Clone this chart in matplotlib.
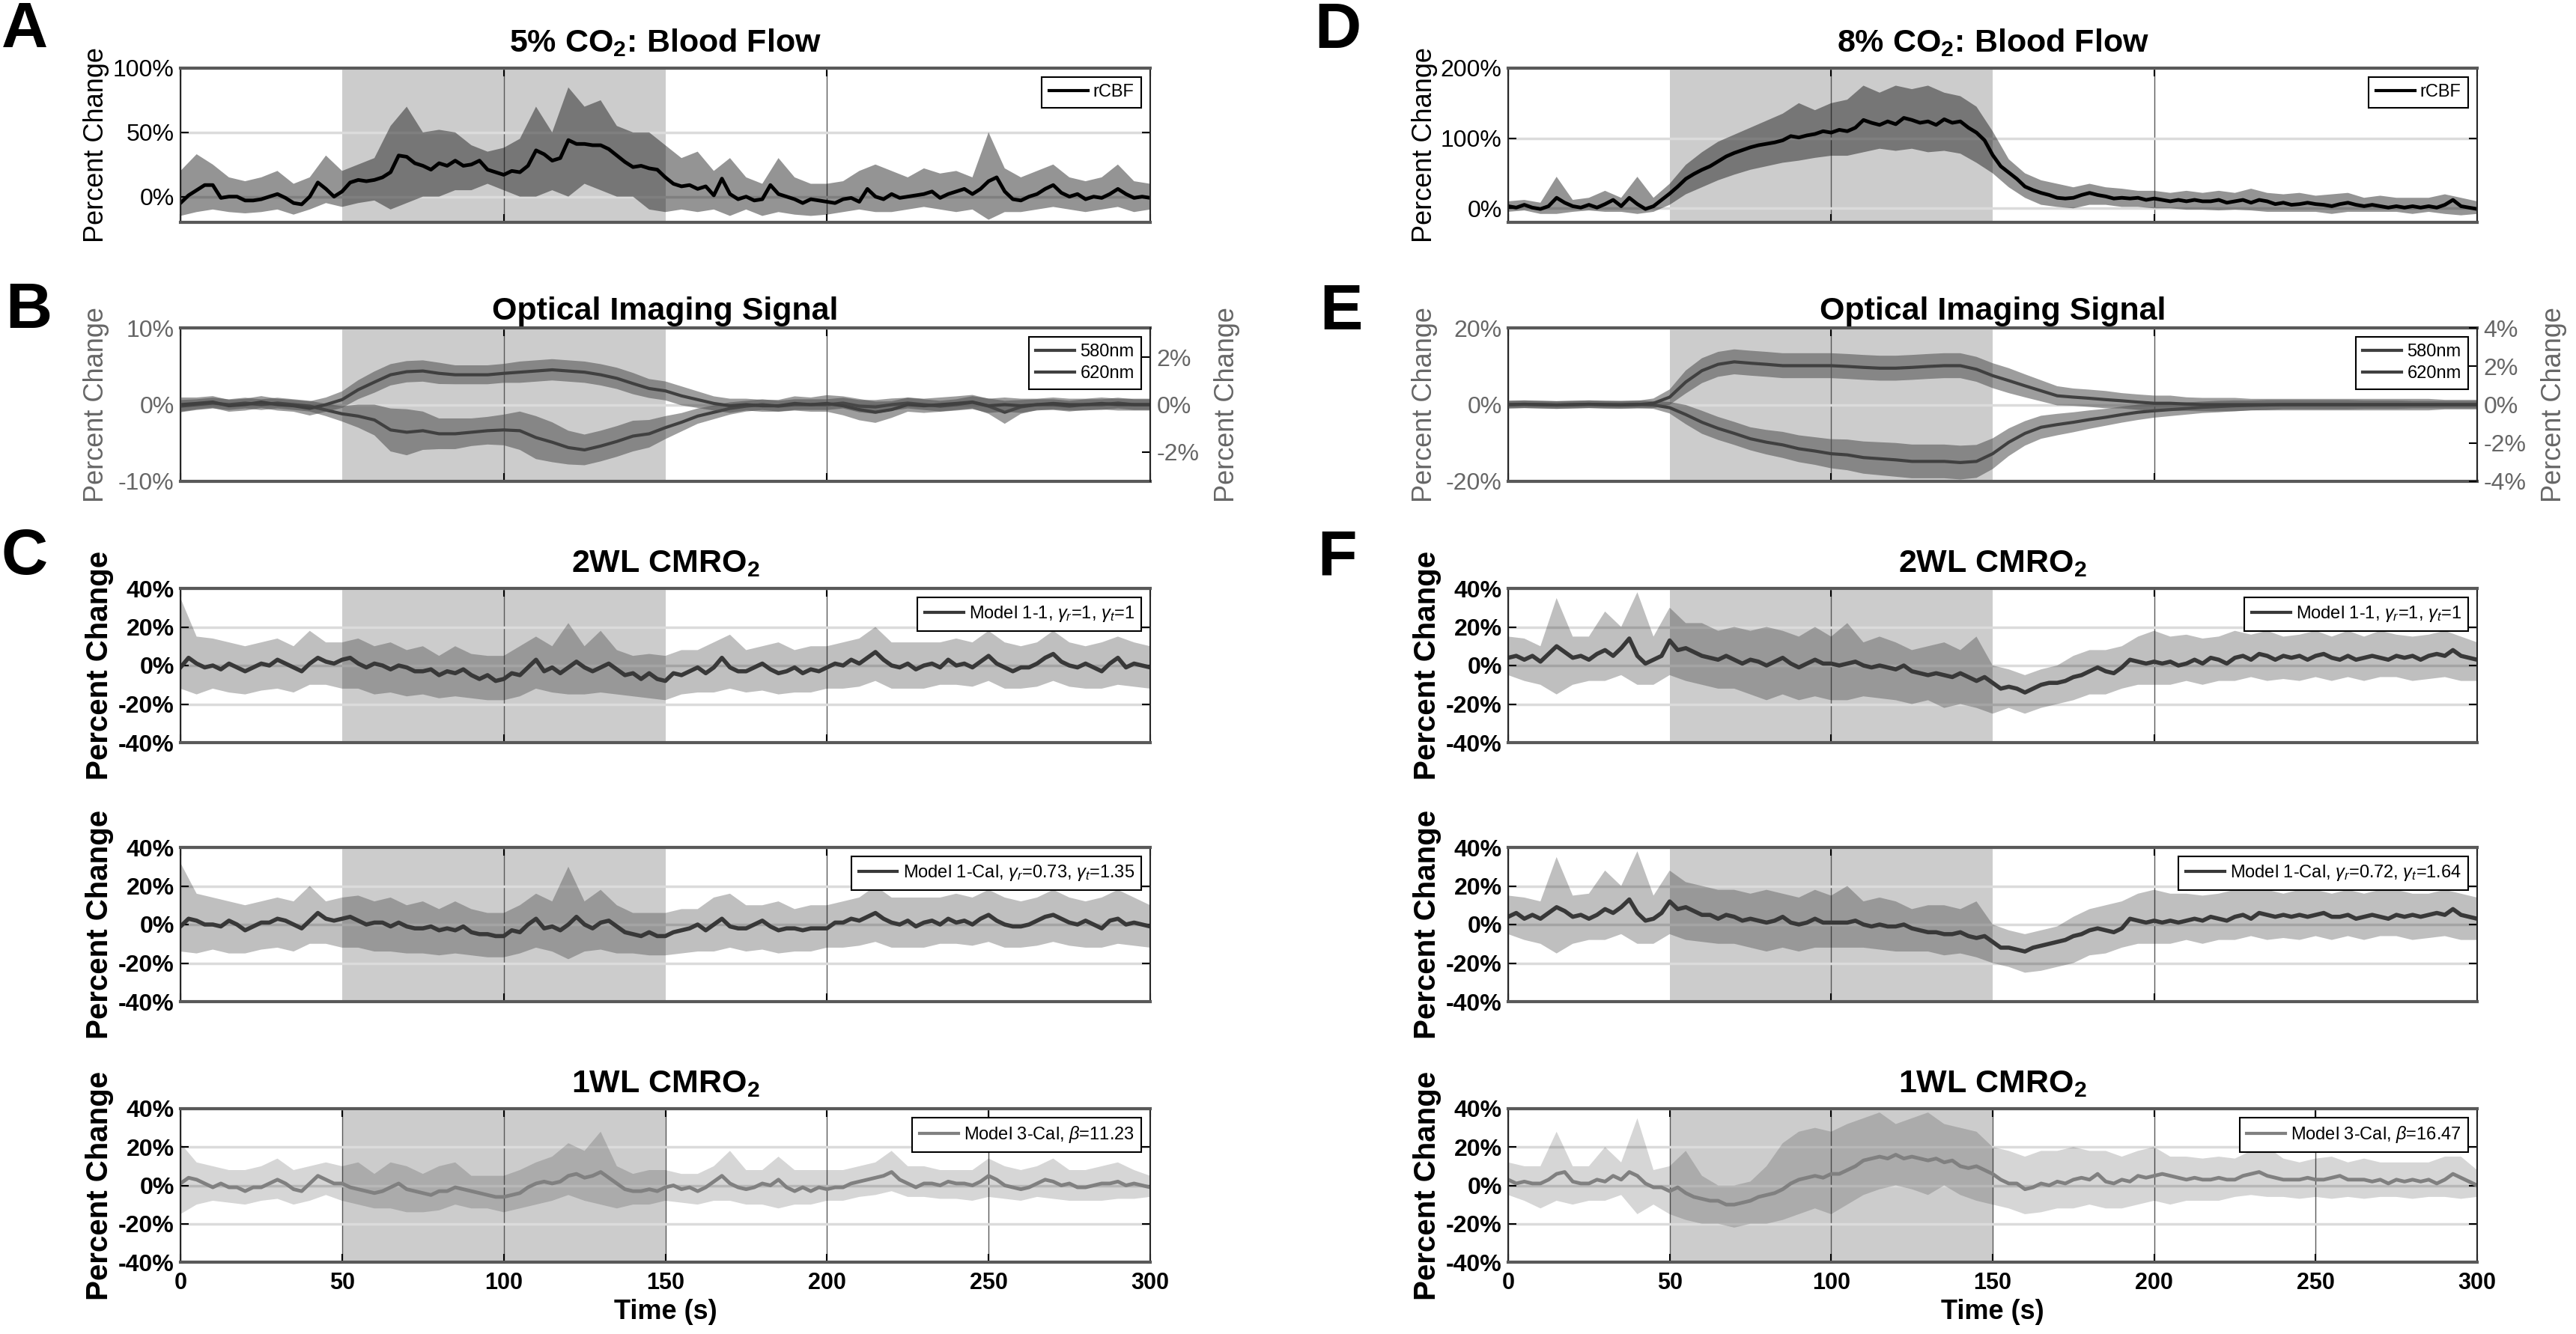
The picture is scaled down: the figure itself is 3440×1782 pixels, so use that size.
import numpy as np
import matplotlib
matplotlib.use("Agg")
import matplotlib.pyplot as plt
from matplotlib.ticker import FuncFormatter

plt.rcParams['font.family'] = ['Liberation Sans', 'DejaVu Sans']
plt.rcParams['mathtext.fontset'] = 'custom'
plt.rcParams['mathtext.rm'] = 'Liberation Sans'
plt.rcParams['mathtext.it'] = 'Liberation Sans:italic'
plt.rcParams['mathtext.bf'] = 'Liberation Sans:bold'

# ---------------- data (percent change; 2.5 s or 5 s sampling over 0-300 s) -------------
stim_on, stim_off = 50, 150
xticks_top = [0, 100, 200, 300]
xticks_bottom = [0, 50, 100, 150, 200, 250, 300]

# Panel A: 5% CO2 rCBF
A_mean = [-5, 1, 5, 9, 9, -1, 0, 0, -3, -3,
          -2, 0, 2, -1, -5, -6, 0, 11, 6, 0,
          4, 11, 13, 12, 13, 15, 19, 32, 31, 26,
          24, 21, 26, 24, 28, 24, 25, 28, 21, 19,
          17, 20, 19, 24, 36, 33, 28, 30, 44, 41,
          41, 40, 40, 37, 32, 27, 23, 24, 22, 21,
          15, 10, 8, 9, 6, 8, 1, 14, 2, -2,
          0, -3, -2, 9, 2, 0, -2, -5, -2, -3,
          -4, -5, -2, -1, -4, 6, 0, -2, 2, -1,
          0, 1, 2, 4, -1, 2, 4, 6, 2, 6,
          12, 15, 4, -2, -3, 0, 2, 6, 9, 3,
          0, 2, -2, 0, -1, 2, 6, 2, -1, 0,
          -1]
A_up = [20, 33, 25, 15, 12, 15, 20, 10, 15, 32,
        20, 25, 30, 55, 70, 50, 52, 50, 40, 35,
        38, 45, 70, 50, 85, 70, 75, 55, 50, 50,
        40, 30, 35, 20, 30, 15, 10, 30, 15, 10,
        10, 12, 20, 25, 20, 15, 22, 18, 20, 15,
        50, 22, 15, 20, 25, 15, 12, 15, 25, 12,
        10]
A_lo = [-15, -12, -10, -12, -13, -12, -10, -14, -10, -5,
        -8, -5, -3, -10, -5, 0, 0, 5, 5, 10,
        5, 0, 0, 5, 0, 10, 5, 0, 0, -10,
        -12, -10, -12, -10, -15, -10, -15, -12, -14, -15,
        -14, -12, -10, -12, -12, -10, -8, -10, -12, -10,
        -18, -12, -12, -10, -8, -10, -12, -10, -8, -12,
        -10]

# Panel D: 8% CO2 rCBF
D_mean = [3, 1, 5, 1, -1, 3, 15, 8, 3, 1,
          5, 1, 6, 12, 3, 15, 6, -1, 3, 12,
          21, 31, 42, 49, 55, 60, 67, 74, 79, 83,
          87, 90, 92, 94, 97, 103, 101, 104, 106, 110,
          108, 112, 110, 115, 126, 122, 119, 124, 120, 129,
          126, 122, 124, 119, 127, 122, 124, 115, 108, 97,
          76, 60, 51, 42, 31, 26, 22, 19, 15, 14,
          15, 19, 22, 19, 17, 14, 15, 14, 15, 12,
          14, 12, 10, 12, 10, 12, 10, 10, 12, 8,
          10, 12, 8, 12, 10, 6, 8, 5, 6, 8,
          6, 5, 3, 6, 8, 5, 3, 5, 3, 1,
          3, 1, 3, 1, 3, 1, 5, 12, 3, 1,
          -1]
D_up = [10, 12, 8, 45, 12, 15, 25, 15, 45, 15,
        35, 62, 80, 95, 105, 115, 125, 135, 150, 140,
        150, 155, 175, 165, 175, 170, 175, 165, 160, 145,
        110, 70, 50, 40, 35, 30, 35, 30, 28, 25,
        25, 22, 25, 22, 25, 22, 28, 22, 20, 22,
        18, 20, 22, 15, 18, 15, 15, 15, 20, 15,
        10]
D_lo = [-5, -3, -8, -8, -5, -3, -5, -5, -8, -5,
        5, 20, 30, 40, 48, 55, 60, 65, 68, 72,
        75, 75, 80, 85, 82, 85, 80, 82, 78, 65,
        50, 30, 15, 5, 2, 0, 5, 5, 2, 2,
        0, 0, -2, -2, -3, -2, -3, -5, -5, -5,
        -5, -8, -5, -5, -5, -5, -8, -5, -8, -10,
        -8]

# Panel B: optical signal, 5% CO2 (580nm on left axis, 620nm on right axis)
B580_mean = [-0.2, 0.0, 0.2, 0.0, 0.2, 0.0, 0.2, 0.0, -0.2, -0.7,
             -1.2, -1.5, -2.0, -3.3, -3.6, -3.4, -3.8, -3.8, -3.6, -3.4,
             -3.3, -3.4, -4.3, -4.9, -5.6, -5.9, -5.4, -4.8, -4.1, -3.8,
             -3.0, -2.3, -1.5, -1.0, -0.5, -0.2, 0.0, -0.2, 0.0, 0.0,
             0.0, 0.2, -0.2, -0.3, 0.0, 0.2, 0.0, -0.2, 0.0, 0.3,
             -0.2, -1.0, -0.3, 0.0, 0.0, -0.2, 0.0, 0.0, 0.2, 0.0,
             0.0]
B580_sd = [0.8, 0.7, 0.7, 0.7, 0.7, 0.7, 0.7, 0.7, 0.7, 0.8,
           1.0, 1.5, 2.0, 2.8, 3.0, 2.5, 2.0, 2.0, 1.8, 1.8,
           2.0, 2.5, 2.8, 2.6, 2.2, 2.0, 2.0, 2.0, 2.0, 1.8,
           1.5, 1.2, 1.0, 0.9, 0.8, 0.7, 0.7, 0.7, 0.7, 0.7,
           0.7, 0.7, 0.8, 0.9, 0.8, 0.7, 0.7, 0.7, 0.7, 0.8,
           1.0, 1.5, 0.9, 0.7, 0.7, 0.7, 0.7, 0.7, 0.7, 0.7,
           0.7]
B620_mean = [0, 0.05, 0.11, -0.05, 0, 0.11, 0, -0.05, -0.16, 0,
             0.21, 0.63, 0.95, 1.26, 1.39, 1.42, 1.32, 1.26, 1.26, 1.26,
             1.32, 1.37, 1.42, 1.47, 1.42, 1.37, 1.26, 1.11, 0.89, 0.68,
             0.58, 0.37, 0.21, 0.05, -0.05, 0, -0.05, -0.05, 0.05, 0,
             0.05, -0.05, -0.21, -0.32, -0.21, 0, -0.05, 0, 0.05, 0.11,
             -0.05, 0, -0.05, 0, 0.05, 0, 0, 0.05, 0, 0,
             0]
B620_sd = [0.3, 0.25, 0.25, 0.25, 0.25, 0.25, 0.25, 0.25, 0.3, 0.3,
           0.35, 0.4, 0.45, 0.45, 0.45, 0.45, 0.45, 0.4, 0.4, 0.4,
           0.4, 0.45, 0.45, 0.45, 0.45, 0.45, 0.45, 0.45, 0.45, 0.4,
           0.4, 0.4, 0.35, 0.3, 0.3, 0.25, 0.25, 0.25, 0.3, 0.3,
           0.35, 0.4, 0.45, 0.45, 0.35, 0.3, 0.3, 0.3, 0.3, 0.3,
           0.3, 0.3, 0.3, 0.25, 0.25, 0.25, 0.25, 0.25, 0.25, 0.25,
           0.25]

# Panel E: optical signal, 8% CO2
E580_mean = [0, 0.1, 0, -0.1, 0, 0.1, 0, 0, 0.1, -0.1,
             -0.8, -2.6, -4.6, -6.2, -7.5, -8.9, -9.8, -10.5, -11.5, -12.1,
             -12.8, -13.1, -13.8, -14.1, -14.4, -14.8, -14.8, -14.8, -15.1, -14.8,
             -12.8, -9.8, -7.5, -5.9, -5.2, -4.6, -3.9, -3.3, -2.6, -2.0,
             -1.6, -1.3, -1.0, -0.7, -0.5, -0.3, -0.2, -0.1, 0, 0,
             0, 0, 0, 0, 0, 0, 0, 0, 0, 0,
             0]
E580_sd = [1.0, 1.0, 1.0, 1.0, 1.0, 1.0, 1.0, 1.0, 1.0, 1.0,
           1.5, 2.5, 3.0, 3.0, 3.0, 3.0, 3.2, 3.4, 3.5, 3.6,
           3.8, 4.0, 4.2, 4.3, 4.4, 4.4, 4.4, 4.4, 4.4, 4.3,
           4.0, 3.6, 3.2, 3.0, 2.8, 2.6, 2.4, 2.2, 2.1, 2.0,
           1.8, 1.7, 1.6, 1.5, 1.5, 1.4, 1.3, 1.3, 1.2, 1.2,
           1.2, 1.2, 1.2, 1.1, 1.1, 1.1, 1.0, 1.0, 1.0, 1.0,
           1.0]
E620_mean = [0, 0.02, 0, -0.02, 0, 0.02, 0, -0.02, 0, 0.07,
             0.39, 1.18, 1.77, 2.10, 2.23, 2.16, 2.10, 2.03, 2.03, 2.03,
             2.03, 1.99, 1.94, 1.90, 1.90, 1.94, 1.99, 2.03, 2.03, 1.84,
             1.51, 1.25, 0.98, 0.72, 0.46, 0.39, 0.33, 0.26, 0.20, 0.13,
             0.07, 0.07, 0.03, 0, 0, 0, 0, 0, 0, 0,
             0, 0, 0, 0, 0, 0, 0, 0, 0, 0,
             0]
E620_sd = [0.2, 0.2, 0.2, 0.2, 0.2, 0.2, 0.2, 0.2, 0.2, 0.25,
           0.4, 0.6, 0.65, 0.65, 0.65, 0.65, 0.65, 0.65, 0.65, 0.65,
           0.65, 0.65, 0.65, 0.65, 0.65, 0.65, 0.65, 0.65, 0.65, 0.65,
           0.65, 0.65, 0.6, 0.55, 0.5, 0.45, 0.45, 0.45, 0.4, 0.4,
           0.4, 0.4, 0.35, 0.35, 0.35, 0.35, 0.3, 0.3, 0.3, 0.3,
           0.3, 0.3, 0.3, 0.3, 0.3, 0.3, 0.3, 0.3, 0.25, 0.25,
           0.25]

# Panel C (5% CO2): CMRO2 estimates
C1_mean = [-1, 4, 1, -1, 0, -2, 1, -1, -3, -1,
           1, 0, 3, 1, -1, -3, 1, 4, 2, 1,
           3, 4, 1, -1, 1, 0, -2, 0, -1, -3,
           -3, -2, -5, -3, -4, -2, -5, -7, -5, -8,
           -7, -4, -5, -1, 3, -3, -1, -4, -1, 2,
           -1, -3, -1, 1, -2, -5, -4, -7, -4, -7,
           -8, -4, -5, -3, -1, -4, -1, 4, -1, -3,
           -3, -1, 1, -2, -4, -3, -1, -4, -2, -3,
           -1, 1, 0, 3, 1, 4, 7, 3, 0, -1,
           1, -2, 0, 1, -1, 3, 0, 1, -1, 2,
           5, 1, -1, -3, -1, -1, 1, 4, 6, 2,
           0, -1, 1, -1, -3, 1, 4, -1, 1, 0,
           -1]
C1_up = [35, 15, 14, 12, 10, 12, 14, 10, 18, 12,
         12, 14, 10, 12, 8, 10, 5, 10, 6, 5,
         5, 10, 15, 10, 22, 10, 18, 8, 5, 6,
         5, 8, 8, 12, 16, 8, 10, 12, 8, 10,
         10, 12, 14, 20, 12, 12, 12, 12, 14, 12,
         18, 12, 10, 12, 18, 12, 10, 12, 15, 12,
         10]
C1_lo = [-12, -15, -12, -14, -15, -13, -12, -14, -10, -10,
         -12, -12, -15, -14, -16, -15, -17, -16, -17, -18,
         -18, -16, -12, -14, -15, -15, -14, -15, -16, -17,
         -18, -15, -14, -14, -12, -14, -13, -15, -14, -14,
         -12, -12, -11, -8, -12, -12, -12, -10, -10, -11,
         -8, -12, -12, -11, -8, -11, -12, -12, -10, -11,
         -12]
C2_mean = [-1, 3, 2, 0, 0, -1, 2, 0, -3, -1,
           1, 1, 3, 2, 0, -2, 2, 6, 3, 2,
           3, 4, 2, 0, 1, 1, -1, 1, -1, -2,
           -2, -1, -3, -2, -3, -1, -4, -5, -5, -6,
           -6, -3, -4, 0, 3, -2, -1, -3, 0, 4,
           0, -2, 1, 2, -1, -4, -5, -6, -4, -6,
           -6, -4, -3, -2, 0, -3, 0, 3, -1, -2,
           -2, 0, 2, -1, -3, -2, -2, -3, -2, -2,
           -2, 1, 1, 3, 2, 4, 6, 3, 1, 0,
           2, -1, 1, 2, 0, 3, 1, 2, 0, 3,
           5, 2, 0, -1, -1, 0, 2, 4, 5, 3,
           1, 0, 2, 0, -2, 2, 3, 0, 1, 0,
           -1]
C2_up = [32, 16, 14, 12, 10, 12, 14, 12, 20, 12,
         14, 15, 12, 14, 10, 12, 8, 12, 8, 6,
         6, 10, 16, 12, 30, 12, 18, 10, 6, 6,
         6, 8, 8, 14, 16, 10, 10, 12, 8, 10,
         10, 12, 14, 20, 14, 14, 14, 14, 16, 14,
         18, 14, 12, 14, 18, 14, 12, 14, 18, 14,
         10]
C2_lo = [-14, -15, -13, -15, -15, -13, -12, -14, -10, -10,
         -12, -12, -14, -14, -15, -15, -16, -15, -16, -17,
         -17, -15, -12, -14, -18, -14, -13, -15, -15, -16,
         -16, -15, -14, -14, -12, -14, -13, -15, -14, -14,
         -12, -12, -11, -9, -12, -12, -12, -10, -10, -11,
         -9, -12, -12, -11, -9, -11, -12, -12, -10, -11,
         -12]
C3_mean = [1, 4, 3, 1, -1, 1, -1, -1, -3, -1,
           -1, 1, 3, 1, -2, -3, 1, 5, 3, 1,
           1, -1, -2, -3, -4, -3, -1, 1, -2, -3,
           -4, -5, -3, -3, -1, -2, -3, -4, -5, -6,
           -6, -5, -4, -1, 1, 2, 1, 2, 5, 6,
           4, 5, 7, 4, 1, -2, -3, -3, -2, -3,
           -1, 0, -2, -1, -3, -1, 2, 5, 1, -1,
           -2, -1, 1, 0, 3, -1, -3, -1, -3, -1,
           -2, -1, -1, 1, 2, 3, 4, 5, 7, 3,
           1, -1, 1, 1, 0, 2, 1, 1, 0, 2,
           5, 3, 0, -1, -2, -1, 1, 3, 2, 0,
           1, -1, -1, 0, 1, 1, 2, 0, 1, 0,
           -1]
C3_up = [22, 12, 10, 8, 8, 10, 14, 8, 10, 12,
         10, 12, 6, 12, 10, 6, 10, 12, 5, 5,
         5, 8, 12, 15, 22, 18, 28, 10, 6, 8,
         8, 6, 6, 10, 18, 8, 8, 15, 8, 8,
         8, 8, 10, 12, 18, 10, 10, 8, 8, 8,
         14, 10, 8, 10, 14, 8, 8, 10, 12, 8,
         5]
C3_lo = [-15, -10, -8, -9, -10, -8, -7, -10, -8, -5,
         -8, -10, -12, -12, -14, -14, -13, -10, -12, -12,
         -14, -12, -10, -8, -5, -8, -10, -12, -10, -10,
         -8, -9, -10, -8, -8, -10, -10, -12, -10, -10,
         -8, -8, -6, -5, -3, -6, -6, -7, -7, -8,
         -6, -7, -8, -6, -7, -8, -8, -8, -7, -7,
         -6]

# Panel F (8% CO2): CMRO2 estimates
F1_mean = [4, 5, 3, 5, 2, 6, 10, 7, 4, 5,
           3, 6, 8, 5, 9, 14, 5, 1, 3, 5,
           13, 8, 9, 7, 5, 4, 3, 5, 3, 1,
           3, 2, 0, 2, 4, 1, -1, 1, 3, 1,
           1, 0, 1, 2, 0, -1, 0, -1, -2, 0,
           -3, -4, -5, -4, -5, -6, -4, -6, -8, -6,
           -9, -12, -11, -12, -14, -12, -10, -9, -9, -8,
           -6, -5, -3, -1, -3, -4, -1, 3, 2, 1,
           2, 1, 2, 0, 1, 3, 1, 4, 3, 1,
           4, 5, 3, 6, 5, 3, 5, 4, 5, 3,
           5, 6, 4, 3, 5, 3, 4, 5, 4, 3,
           5, 4, 5, 3, 5, 6, 5, 8, 5, 4,
           3]
F1_up = [15, 14, 10, 35, 15, 15, 28, 20, 38, 15,
         30, 22, 22, 18, 20, 18, 20, 18, 15, 20,
         15, 22, 12, 15, 12, 8, 10, 12, 8, 15,
         0, -2, -5, -2, 0, 5, 8, 8, 10, 15,
         18, 15, 16, 14, 15, 18, 16, 18, 15, 16,
         18, 15, 18, 15, 18, 16, 15, 16, 18, 15,
         12]
F1_lo = [-5, -8, -10, -15, -10, -8, -8, -5, -10, -10,
         -5, -8, -10, -12, -12, -15, -18, -15, -18, -16,
         -18, -18, -16, -17, -18, -20, -18, -22, -20, -22,
         -25, -22, -25, -22, -20, -18, -15, -15, -12, -10,
         -10, -10, -8, -10, -8, -8, -6, -8, -7, -8,
         -6, -8, -6, -8, -6, -6, -8, -7, -6, -8,
         -8]
F2_mean = [4, 6, 3, 5, 3, 6, 9, 7, 4, 5,
           3, 5, 8, 6, 9, 13, 6, 2, 3, 6,
           12, 8, 9, 7, 5, 5, 3, 5, 4, 2,
           3, 2, 1, 2, 4, 1, 0, 1, 3, 1,
           1, 1, 1, 2, 0, -1, 0, -1, -1, 0,
           -2, -3, -4, -4, -5, -5, -4, -6, -7, -6,
           -9, -12, -12, -13, -14, -12, -11, -10, -9, -8,
           -6, -5, -3, -2, -3, -4, -2, 3, 2, 1,
           2, 1, 2, 1, 2, 3, 2, 4, 3, 2,
           4, 5, 3, 6, 5, 4, 5, 4, 5, 4,
           5, 6, 4, 4, 5, 3, 4, 5, 4, 3,
           5, 4, 5, 4, 5, 6, 5, 8, 5, 4,
           3]
F2_up = [15, 14, 12, 35, 15, 16, 28, 20, 38, 15,
         28, 22, 20, 18, 18, 16, 18, 16, 14, 18,
         15, 20, 12, 14, 12, 8, 10, 10, 8, 12,
         0, -3, -5, -3, -1, 4, 8, 10, 12, 16,
         18, 16, 16, 15, 16, 18, 18, 18, 16, 18,
         18, 16, 18, 16, 18, 18, 16, 16, 18, 16,
         14]
F2_lo = [-5, -8, -10, -15, -10, -8, -8, -5, -10, -10,
         -5, -8, -9, -10, -10, -12, -14, -12, -14, -12,
         -12, -12, -12, -13, -14, -14, -14, -16, -15, -17,
         -20, -22, -25, -24, -22, -20, -16, -15, -12, -10,
         -10, -10, -8, -10, -8, -8, -6, -8, -7, -8,
         -6, -8, -6, -8, -6, -6, -8, -7, -6, -8,
         -8]
F3_mean = [3, 1, 2, 1, 1, 3, 6, 7, 2, 1,
           1, 3, 2, 5, 3, 7, 5, 1, -1, -1,
           -3, -1, -4, -6, -7, -8, -8, -10, -10, -9,
           -8, -6, -5, -4, -2, 1, 3, 4, 5, 4,
           6, 6, 8, 10, 13, 14, 15, 14, 16, 14,
           15, 14, 13, 14, 12, 13, 10, 9, 10, 8,
           6, 3, 1, 1, -2, -1, 1, 0, 2, 1,
           3, 4, 3, 6, 2, 1, 3, 2, 5, 4,
           5, 6, 5, 4, 3, 4, 3, 3, 4, 3,
           3, 5, 6, 7, 5, 4, 3, 3, 3, 4,
           3, 3, 4, 5, 3, 3, 3, 2, 3, 1,
           3, 2, 3, 2, 3, 1, 3, 6, 4, 2,
           0]
F3_up = [12, 10, 10, 28, 10, 10, 20, 12, 35, 8,
         10, 18, 5, 0, 0, 2, 10, 22, 28, 30,
         28, 32, 35, 38, 32, 35, 38, 32, 30, 28,
         20, 18, 15, 18, 18, 20, 18, 18, 15, 18,
         20, 15, 15, 14, 15, 14, 18, 20, 14, 12,
         14, 15, 12, 14, 12, 12, 12, 12, 15, 15,
         8]
F3_lo = [-5, -8, -12, -8, -10, -8, -8, -5, -15, -10,
         -15, -18, -20, -20, -22, -20, -20, -18, -15, -12,
         -15, -10, -5, -2, 0, -2, -5, 0, -5, -8,
         -10, -12, -15, -14, -12, -12, -10, -12, -12, -10,
         -8, -10, -8, -8, -8, -6, -5, -6, -6, -7,
         -6, -7, -6, -7, -6, -6, -7, -6, -6, -7,
         -6]

titles_col1 = [r'5% CO$_\mathbf{2}$: Blood Flow', 'Optical Imaging Signal',
               r'2WL CMRO$_\mathbf{2}$', None, r'1WL CMRO$_\mathbf{2}$']
titles_col2 = [r'8% CO$_\mathbf{2}$: Blood Flow', 'Optical Imaging Signal',
               r'2WL CMRO$_\mathbf{2}$', None, r'1WL CMRO$_\mathbf{2}$']
labels_c = [r'Model 1-1, $\gamma_r$=1, $\gamma_t$=1',
            r'Model 1-Cal, $\gamma_r$=0.73, $\gamma_t$=1.35',
            r'Model 3-Cal, $\beta$=11.23']
labels_f = [r'Model 1-1, $\gamma_r$=1, $\gamma_t$=1',
            r'Model 1-Cal, $\gamma_r$=0.72, $\gamma_t$=1.64',
            r'Model 3-Cal, $\beta$=16.47']

# ---------------- layout -------------
W, H = 3440, 1782
fig = plt.figure(figsize=(W / 100, H / 100), dpi=100)
cols = [(241, 1536), (2014, 3308)]
rows = [(91, 297), (438, 643), (786, 992), (1132, 1338), (1481, 1686)]

pct = FuncFormatter(lambda v, p: f"{v:g}%")


def tgrid(arr):
    return np.linspace(0, 300, len(arr))


def make_ax(c, r):
    l, rr = cols[c]
    t, b = rows[r]
    return fig.add_axes([l / W, 1 - b / H, (rr - l) / W, (b - t) / H])


def style(ax, ylim, yticks, bottom=False, tcolor='black', tweight='normal', right=True):
    ax.set_xlim(0, 300)
    ax.set_ylim(*ylim)
    ax.axvspan(stim_on, stim_off, facecolor='0.8', edgecolor='none', zorder=0.2)
    ax.set_xticks(xticks_bottom if bottom else xticks_top)
    ax.set_yticks(yticks)
    ax.yaxis.set_major_formatter(pct)
    ax.set_axisbelow(True)
    ax.xaxis.grid(True, color='0.35', lw=1.0)
    ax.yaxis.grid(True, color='0.86', lw=2.5)
    ax.tick_params(axis='both', direction='in', length=8, width=1.5,
                   top=True, right=right, labelsize=23, pad=6)
    ax.tick_params(axis='y', labelcolor=tcolor)
    if bottom:
        ax.tick_params(axis='x', labelsize=22, pad=9)
        for tl in ax.get_xticklabels():
            tl.set_fontweight('bold')
    else:
        ax.set_xticklabels([])
    for tl in ax.get_yticklabels():
        tl.set_fontweight(tweight)
    for s in ('top', 'bottom'):
        ax.spines[s].set_linewidth(3)
        ax.spines[s].set_color('0.35')
    for s in ('left', 'right'):
        ax.spines[s].set_linewidth(1.5)
        ax.spines[s].set_color('0.15')


def band(ax, mean, up, lo, fc, alpha, lc, lw, z=1):
    ax.fill_between(tgrid(up), lo, up, facecolor=fc, alpha=alpha, lw=0, zorder=z)
    ln, = ax.plot(tgrid(mean), mean, color=lc, lw=lw, zorder=z + 1,
                  solid_joinstyle='round')
    return ln


def legend(ax, handles, labels):
    lg = ax.legend(handles, labels, loc='upper right', fontsize=17, frameon=True,
                   fancybox=False, framealpha=1, edgecolor='black',
                   handlelength=2.2, handletextpad=0.3, borderpad=0.4,
                   labelspacing=0.3, borderaxespad=0.5)
    lg.get_frame().set_linewidth(1.5)
    for h in lg.legend_handles:
        h.set_linewidth(3)
    lg.set_zorder(10)


def ylabel(c, r, color='black', weight='normal', size=26, side='left', off=112):
    l, rr = cols[c]
    t, b = rows[r]
    x = (l - off) if side == 'left' else (rr + 102)
    fig.text(x / W, 1 - (t + b) / 2 / H, 'Percent Change', rotation=90,
             ha='center', va='center', color=color, fontsize=size, fontweight=weight)


panel_data = [
    dict(blood=(A_mean, A_up, A_lo), ylimA=(-20, 100), yticksA=[0, 50, 100],
         opt=(B580_mean, B580_sd, B620_mean, B620_sd), ylimB=(-10, 10), yticksB=[-10, 0, 10],
         ylimB2=(-3.24, 3.24), yticksB2=[-2, 0, 2],
         cm=[(C1_mean, C1_up, C1_lo), (C2_mean, C2_up, C2_lo), (C3_mean, C3_up, C3_lo)],
         labels=labels_c, titles=titles_col1, letters='ABC'),
    dict(blood=(D_mean, D_up, D_lo), ylimA=(-20, 200), yticksA=[0, 100, 200],
         opt=(E580_mean, E580_sd, E620_mean, E620_sd), ylimB=(-20, 20), yticksB=[-20, 0, 20],
         ylimB2=(-4, 4), yticksB2=[-4, -2, 0, 2, 4],
         cm=[(F1_mean, F1_up, F1_lo), (F2_mean, F2_up, F2_lo), (F3_mean, F3_up, F3_lo)],
         labels=labels_f, titles=titles_col2, letters='DEF'),
]

letter_pos = [[(33, 41), (38, 416), (33, 745)], [(1786, 42), (1791, 418), (1786, 746)]]

for c, P in enumerate(panel_data):
    # row 0: blood flow
    ax = make_ax(c, 0)
    style(ax, P['ylimA'], P['yticksA'])
    m, u, lo_ = P['blood']
    ln = band(ax, m, u, lo_, 'black', 0.42, 'black', 3.5)
    legend(ax, [ln], ['rCBF'])
    ax.set_title(P['titles'][0], fontsize=31, fontweight='bold', pad=16)
    ylabel(c, 0)

    # row 1: optical signal
    ax = make_ax(c, 1)
    style(ax, P['ylimB'], P['yticksB'], tcolor='0.4', right=False)
    ax2 = ax.twinx()
    ax2.set_xlim(0, 300)
    ax2.set_ylim(*P['ylimB2'])
    ax2.set_yticks(P['yticksB2'])
    ax2.yaxis.set_major_formatter(pct)
    ax2.tick_params(axis='y', direction='in', length=8, width=1.5, labelsize=23,
                    pad=6, labelcolor='0.4')
    for s in ('top', 'bottom', 'left'):
        ax2.spines[s].set_visible(False)
    ax2.spines['right'].set_linewidth(1.5)
    ax2.spines['right'].set_color('0.15')
    m580, s580, m620, s620 = [np.asarray(v, float) for v in P['opt']]
    l580 = band(ax, m580, m580 + s580, m580 - s580, '0.3', 0.55, '0.25', 3)
    l620 = band(ax2, m620, m620 + s620, m620 - s620, '0.3', 0.55, '0.25', 3)
    legend(ax2, [l580, l620], ['580nm', '620nm'])
    ax.set_title(P['titles'][1], fontsize=31, fontweight='bold', pad=8)
    ylabel(c, 1, color='0.4')
    ylabel(c, 1, color='0.4', side='right')

    # rows 2-4: CMRO2
    for k in range(3):
        r = 2 + k
        ax = make_ax(c, r)
        style(ax, (-40, 40), [-40, -20, 0, 20, 40], bottom=(r == 4), tweight='bold')
        m, u, lo_ = P['cm'][k]
        if k < 2:
            ln = band(ax, m, u, lo_, 'black', 0.25, '0.22', 4)
        else:
            ln = band(ax, m, u, lo_, 'black', 0.16, '0.5', 3.5)
        legend(ax, [ln], [P['labels'][k]])
        if P['titles'][r]:
            ax.set_title(P['titles'][r], fontsize=31, fontweight='bold', pad=16)
        ylabel(c, r, weight='bold', size=29, off=108)

    # x label
    l, rr = cols[c]
    fig.text((l + rr) / 2 / W, 1 - 1753 / H, 'Time (s)', ha='center', va='center',
             fontsize=26, fontweight='bold')
    for (x, y), L in zip(letter_pos[c], P['letters']):
        fig.text(x / W, 1 - y / H, L, ha='center', va='center', fontsize=62,
                 fontweight='bold')

fig.savefig('out.png', dpi=100)
